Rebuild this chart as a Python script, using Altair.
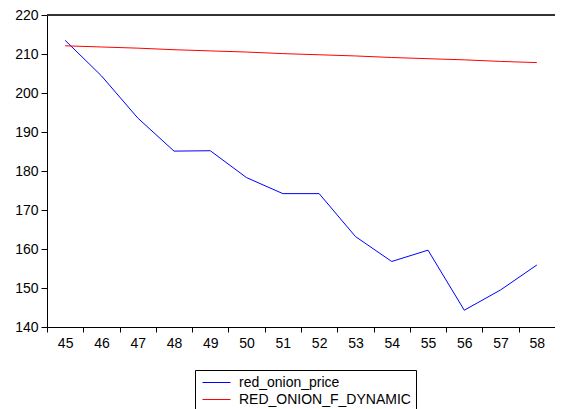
import altair as alt
import pandas as pd

periods = [45, 46, 47, 48, 49, 50, 51, 52, 53, 54, 55, 56, 57, 58]
red_onion_price = [213.5, 204.4, 193.6, 185.1, 185.2, 178.3, 174.2, 174.2, 163.2, 156.8, 159.7, 144.3, 149.5, 155.9]
red_onion_f_dynamic = [212.1, 211.8, 211.5, 211.1, 210.8, 210.5, 210.1, 209.8, 209.5, 209.1, 208.8, 208.5, 208.1, 207.8]
series_names = ["red_onion_price", "RED_ONION_F_DYNAMIC"]
series_colors = ["#0000FF", "#FF0000"]
y_ticks = [140, 150, 160, 170, 180, 190, 200, 210, 220]

rows = []
for p, a, b in zip(periods, red_onion_price, red_onion_f_dynamic):
    rows.append({"period": str(p), "series": series_names[0], "value": a})
    rows.append({"period": str(p), "series": series_names[1], "value": b})
df = pd.DataFrame(rows)

FONT = "Liberation Sans"
LEFT = 39
PLOT_W = 508

x_enc = alt.X(
    "period:O",
    sort=[str(p) for p in periods],
    scale=alt.Scale(paddingInner=0, paddingOuter=0),
    axis=alt.Axis(
        title=None, labelAngle=0, tickBand="extent", tickSize=5,
        labelPadding=4, labelFontSize=14, labelFont=FONT, labelColor="#000000",
        domainColor="#000000", tickColor="#000000", labelBound=False,
    ),
)
y_enc = alt.Y(
    "value:Q",
    scale=alt.Scale(domain=[140, 220], nice=False, zero=False),
    axis=alt.Axis(
        title=None, values=y_ticks, grid=False, tickSize=6, labelPadding=3,
        labelFontSize=14, labelFont=FONT, labelColor="#000000",
        domainColor="#000000", tickColor="#000000",
    ),
)

lines = alt.Chart(df).mark_line(strokeWidth=1).encode(
    x=x_enc,
    y=y_enc,
    color=alt.Color(
        "series:N",
        scale=alt.Scale(domain=series_names, range=series_colors),
        legend=alt.Legend(
            title=None, orient="none", legendX=195 - 8 - LEFT, legendY=355,
            symbolType="M-1,0H3", symbolSize=196, symbolStrokeWidth=1,
            symbolOffset=2,
            labelFontSize=14, labelFont=FONT, labelColor="#000000",
            labelOffset=22, padding=5, rowPadding=2,
            strokeColor="#000000", fillColor="#FFFFFF", labelLimit=400,
        ),
    ),
)

top_rule = alt.Chart(pd.DataFrame({"a": [0]})).mark_rule(color="#333333", strokeWidth=2).encode(
    x=alt.value(0), x2=alt.value(PLOT_W), y=alt.value(0)
)

chart = alt.layer(lines, top_rule).properties(
    width=PLOT_W, height=312,
    autosize=alt.AutoSizeParams(type="none"),
    padding={"left": LEFT, "top": 7, "right": 0, "bottom": 100},
).configure_view(stroke=None).configure(background="#FFFFFF")

chart.save("out.html", embed_options={"renderer": "svg", "actions": False})
